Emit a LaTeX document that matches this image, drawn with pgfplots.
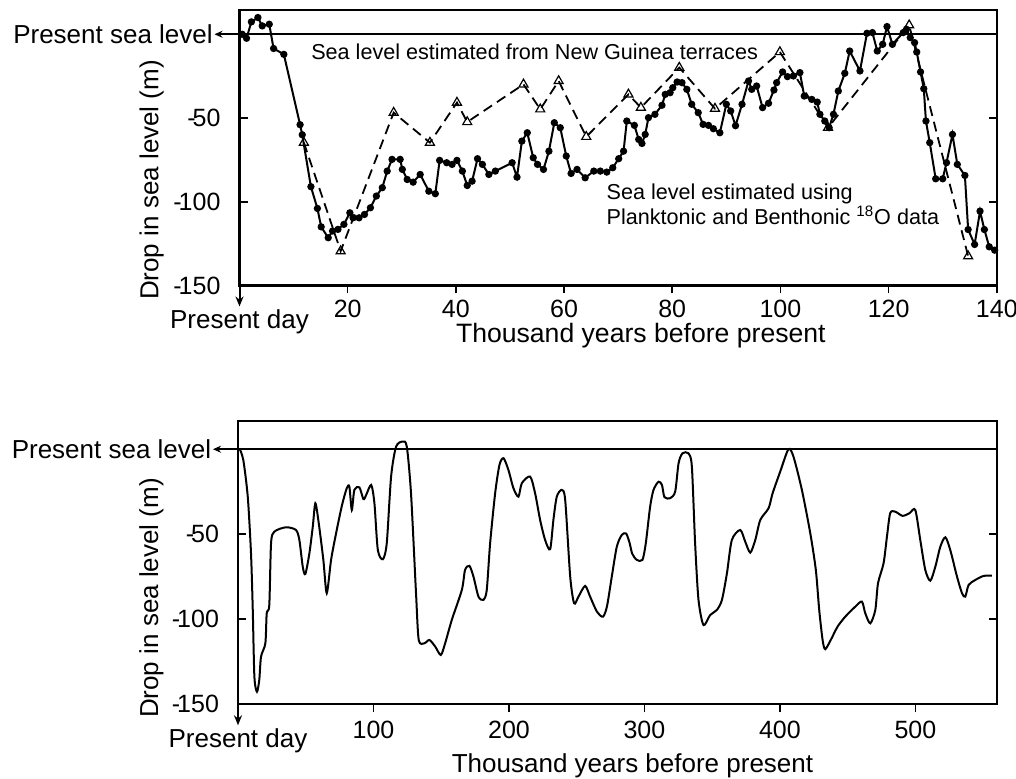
\documentclass[border=0pt]{standalone}
\usepackage{pgfplots}
\pgfplotsset{compat=1.18}
\usepackage{fontspec}
\setmainfont{Liberation Sans}
\usetikzlibrary{arrows.meta}

\pgfplotsset{
  seaaxis/.style={
    scale only axis, clip=false,
    axis line style={line width=1.1pt},
    ymin=-150,
    ytick={-150,-100,-50}, yticklabels={-\kern-1.5pt150,-\kern-1.5pt100,-\kern-1.5pt50},
    xtick align=outside, ytick align=inside,
    xtick pos=bottom,
    major tick length=4pt,
    tick style={line width=0.8pt, black},
    every tick label/.append style={font=\fontsize{12.5}{14}\selectfont},
    yticklabel shift=6pt,
  },
  solidline/.style={black, line width=1pt, mark=*, mark size=1.3pt, mark options={solid, fill=black}},
  terrace/.style={black, line width=0.9pt, dash pattern=on 5pt off 3pt, mark=triangle, mark size=2.6pt, mark options={solid, line width=0.6pt, fill=white}},
}

\begin{document}
\begin{tikzpicture}
% ---------------- top panel ----------------
\begin{axis}[seaaxis,
  at={(119.75pt,246.75pt)}, anchor=south west,
  width=378.65pt, height=137.75pt,
  xmin=0, xmax=140, ymax=14.5,
  xtick={20,40,60,80,100,120,140},
  xticklabels={20,40,60,80,100,120,140},
  xticklabel style={yshift=0.3pt},
  xlabel={Thousand years before present},
  ylabel={Drop in sea level (m)},
  every axis x label/.style={at={(axis description cs:0.53,0)}, anchor=center, yshift=-25.3pt, font=\fontsize{13.3}{15}\selectfont},
  every axis y label/.style={at={(axis description cs:-0.116,0.383)}, rotate=90, anchor=center, font=\fontsize{13}{15}\selectfont},
]
\addplot[black, line width=1pt, forget plot] coordinates {(0,0) (140,0)};
\addplot[terrace] coordinates {
(11.9,-64.7)(18.7,-129.5)(28.5,-46.8)(35.2,-64.7)(40.2,-40.8)(42.1,-52.4)(52.5,-29.9)(55.6,-44.8)(59,-27.9)(64.1,-61.2)(71.9,-35.9)(74.2,-43.8)(81.3,-19.9)(87.9,-44.4)(99.9,-10.6)(108.8,-55.8)(123.8,5.4)(134.7,-132.5)
};
\addplot[solidline] coordinates {
(0.5,0)(1.3,-2.4)(2.2,7.4)(3.4,10)(4.2,5)(5.5,6)(6.3,-8.5)(8.2,-12)(11.2,-54)(11.6,-60)(13.2,-91)(14.4,-104)(15.1,-115)(16.4,-121.5)(17.2,-117.5)(18.2,-116.5)(19.3,-113.5)(20.4,-106.6)(21,-109.6)(22.1,-109.6)(23.1,-107.6)(24.2,-103.6)(25.3,-96.6)(26.4,-91.6)(27.3,-81.7)(28.2,-74.7)(29.7,-74.7)(30.1,-80.7)(31,-86.7)(32.1,-88.3)(33.4,-83.7)(35,-93.7)(36.2,-95.2)(37,-75.3)(38.3,-76.7)(39.3,-77.7)(40.2,-75.3)(41.2,-81.7)(42.1,-90.3)(43,-87.7)(44,-74.3)(44.9,-77.7)(46.1,-83.7)(47.3,-81.7)(50.4,-76.7)(51.3,-85.3)(52.2,-63.8)(53.2,-58.8)(54.3,-73.7)(55.1,-77.7)(56.2,-80.7)(57.2,-69.8)(58.2,-52.8)(59.3,-55.8)(60.4,-72.7)(61.3,-83.1)(62.4,-80.7)(63.9,-85.7)(65.5,-81.7)(66.7,-81.7)(67.9,-82.3)(69,-79.7)(70.1,-74.3)(71,-69.8)(71.6,-51.8)(73,-54.4)(73.8,-62.8)(74.4,-65.2)(75,-59.8)(75.6,-49.8)(76.8,-47.8)(78.1,-42.4)(78.7,-35.9)(79.6,-34.9)(80.1,-31.9)(80.9,-28.5)(81.8,-28.9)(82.7,-32.9)(83.6,-41.8)(84.8,-46.8)(85.7,-53.8)(86.7,-54.4)(87.6,-56.4)(88.8,-58.8)(90,-41.8)(90.8,-45.8)(91.7,-54.6)(92.9,-41.8)(94.1,-27.9)(94.7,-32.9)(95.6,-30.9)(96.7,-43.8)(97.8,-41.2)(98.8,-33.3)(99.3,-28.9)(100.4,-22.5)(101.3,-25.3)(102.4,-24.9)(103.6,-22.9)(104.4,-36.9)(105.8,-38.9)(106.8,-40.5)(107.3,-47.8)(108.2,-51.8)(109,-55.8)(109.8,-47.8)(110.7,-33.9)(111.9,-23.3)(112.8,-10)(114.7,-21.9)(116,0.6)(117,1)(117.9,-10)(118.9,-6)(119.7,4.6)(120.7,-6)(122.7,1)(123.3,3)(124,-2)(124.8,-5)(125.2,-10.6)(125.9,-22.5)(126.5,-32.5)(126.9,-51.8)(127.6,-64.7)(128.7,-86.3)(130,-86.3)(130.7,-76.7)(131.8,-59.8)(132.7,-77.7)(134.1,-84.3)(134.7,-116.6)(135.9,-125.5)(136.9,-105.6)(137.7,-116.6)(138.6,-126.9)(139.6,-128.9)
};
\node[anchor=west, font=\fontsize{10.8}{13}\selectfont, inner sep=0pt] at (axis cs:13.2,-10.6) {Sea level estimated from New Guinea terraces};
\node[anchor=west, align=left, font=\fontsize{10.8}{12.5}\selectfont, inner sep=0pt] at (axis cs:67.8,-101.5) {Sea level estimated using\\Planktonic and Benthonic \textsuperscript{18}O data};
\draw[line width=0.8pt, -{Stealth[length=4pt,width=3.5pt]}] (axis cs:0,0) -- ++(-12.5pt,0pt) node[left, inner sep=0.5pt, font=\fontsize{13}{15}\selectfont] {Present sea level};
\draw[line width=1pt, -{Stealth[length=5pt,width=4pt]}] (axis cs:0,-150) -- ++(0pt,-10.5pt) node[below, inner sep=1pt, font=\fontsize{13}{15}\selectfont] {Present day};
\end{axis}

% ---------------- bottom panel ----------------
\begin{axis}[seaaxis,
  at={(119pt,37.35pt)}, anchor=south west,
  width=379.35pt, height=141.65pt,
  xmin=0, xmax=560, ymax=16.6,
  xtick={100,200,300,400,500},
  xticklabels={100,200,300,400,500},
  xticklabel style={yshift=-0.9pt},
  xlabel={Thousand years before present},
  ylabel={Drop in sea level (m)},
  every axis x label/.style={at={(axis description cs:0.52,0)}, anchor=center, yshift=-30.5pt, font=\fontsize{13}{15}\selectfont},
  every axis y label/.style={at={(axis description cs:-0.114,0.375)}, rotate=90, anchor=center, font=\fontsize{13}{15}\selectfont},
]
\addplot[black, line width=1pt, forget plot] coordinates {(0,0) (560,0)};
\addplot[black, line width=1pt, smooth, tension=0.45] coordinates {
(1,0.6)(3.9,-6.3)(7.2,-27.9)(9.6,-61.2)(10.9,-94.5)(12.1,-133.8)(14,-142.6)(15.7,-135.7)(17,-122)(20.2,-114.1)(21.2,-96.5)(23.1,-91.6)(24.4,-55.3)(26.8,-48.5)(35.4,-45.9)(42.8,-47.5)(45.3,-53.4)(47.8,-69.1)(49.7,-73.4)(52.7,-61.2)(55.2,-45.5)(57.1,-31.8)(59.6,-43.5)(63,-65.1)(65.5,-84.7)(68.7,-65.1)(72.4,-49.4)(76.8,-32.8)(80.3,-22.9)(82.2,-22)(84,-35.7)(85.9,-23.9)(89.6,-22.4)(92.6,-29.4)(94.6,-26.9)(98.3,-21)(100.7,-31.8)(103.2,-59.2)(106.9,-64.7)(109.8,-55.3)(113,-16.1)(116.7,1.5)(121.6,4.5)(124.6,1.5)(127.7,-25.9)(131.4,-84.7)(133.4,-112.2)(137.6,-114.1)(141.3,-112.2)(145.6,-116.1)(149.7,-121)(152.9,-114.1)(157.8,-100.4)(165.2,-82.8)(167.6,-71)(170.8,-68.6)(173.8,-74.9)(177.5,-86.7)(181.2,-88.6)(183.6,-82.8)(186.1,-55.3)(189.8,-25.9)(193,-9.2)(196,-5.3)(199.6,-12.2)(203.3,-22.9)(207,-27.9)(209.5,-20)(215.6,-16.1)(219.3,-25.9)(223,-41.6)(226.7,-53.4)(230.4,-58.8)(232.8,-41.6)(235.3,-27.9)(239,-23.9)(241.5,-29.8)(245.2,-74.9)(248.1,-90.6)(251.3,-86.7)(256.2,-80.4)(259.9,-86.7)(264.9,-95.5)(269.3,-98.5)(272.3,-92.6)(275.9,-74.9)(279.6,-57.3)(283.3,-50.4)(286.5,-49.6)(289,-55)(291,-61.5)(294.4,-65.1)(298.5,-65.1)(301,-55.3)(304.2,-33.8)(306.7,-23.9)(310.4,-19.1)(312.9,-21)(314.8,-28.2)(319,-28.8)(322.7,-24.9)(325.2,-8.2)(328.1,-2.4)(332.5,-2.4)(335,-10.2)(337.4,-55.3)(339.9,-88.6)(343.6,-103.4)(348.5,-97.5)(353.5,-94.5)(357.2,-88.6)(360.9,-72.9)(364.5,-53.4)(370.7,-47.5)(374.4,-54.4)(378.1,-60.8)(381.8,-53.4)(385.5,-41.6)(391.6,-34.7)(394.6,-25.9)(400.2,-13.2)(406.3,0)(410,-4.4)(416.2,-23.9)(422.4,-49.4)(426.5,-71)(429,-94.5)(431.5,-112.2)(433.4,-117.6)(437.5,-112.2)(442.5,-104.4)(448.2,-98.5)(455.6,-92.6)(460.5,-89.6)(463,-96.5)(466.7,-102.4)(470.4,-94.5)(472.4,-78.8)(476.5,-67.1)(479,-51.4)(481.4,-37.6)(485.1,-36.7)(490.5,-39.2)(495.7,-37.6)(499.9,-35.7)(503.6,-53.4)(507.3,-71)(511,-77.3)(514.7,-69.1)(518.4,-57.3)(522.1,-51.8)(525.7,-59.2)(530.7,-74.9)(534.4,-84.7)(536.8,-86.7)(539.3,-79.8)(544.2,-76.9)(550.4,-74.5)(556.5,-74.4)
};
\draw[line width=0.8pt, -{Stealth[length=4pt,width=3.5pt]}] (axis cs:0,0) -- ++(-12.5pt,0pt) node[left, inner sep=0.5pt, font=\fontsize{13}{15}\selectfont] {Present sea level};
\draw[line width=1pt, -{Stealth[length=5pt,width=4pt]}] (axis cs:0,-150) -- ++(0pt,-10.5pt) node[below, inner sep=1pt, font=\fontsize{13}{15}\selectfont] {Present day};
\end{axis}
\pgfresetboundingbox
\path (0,0) rectangle (508pt,389.5pt);
\end{tikzpicture}
\end{document}
